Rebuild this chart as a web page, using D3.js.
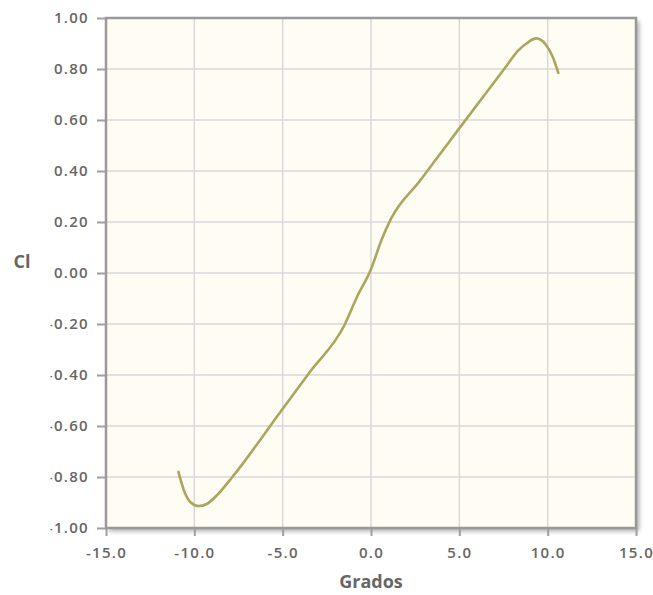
<!DOCTYPE html>
<html>
<head>
<meta charset="utf-8">
<script src="https://cdn.jsdelivr.net/npm/d3@7"></script>
<style>
  html, body { margin: 0; padding: 0; background: #ffffff; }
  svg text { font-family: "Open Sans", "DejaVu Sans", sans-serif; }
</style>
</head>
<body>
<svg id="chart" width="653" height="595"></svg>
<script>
// Lift coefficient vs. angle of attack
const grados = [-10.9, -10.55, -10.2, -9.75, -9.3, -8.7, -7.85, -5.1, -3.45, -1.5, -0.8, 0.0, 0.6, 1.15, 2.75, 5.05, 7.1, 7.7, 8.3, 8.8, 9.35, 9.9, 10.3, 10.6];
const cl     = [-0.78, -0.86, -0.90, -0.914, -0.906, -0.87, -0.80, -0.542, -0.387, -0.204, -0.095, 0.015, 0.13, 0.215, 0.36, 0.572, 0.76, 0.815, 0.87, 0.90, 0.92, 0.895, 0.845, 0.785];

const xTicks = [-15, -10, -5, 0, 5, 10, 15];
const yTicks = [-1.0, -0.8, -0.6, -0.4, -0.2, 0.0, 0.2, 0.4, 0.6, 0.8, 1.0];

const svg = d3.select("#chart");
const plot = { left: 106, top: 18, right: 636, bottom: 528 };

const x = d3.scaleLinear().domain([-15, 15]).range([plot.left, plot.right]);
const y = d3.scaleLinear().domain([-1, 1]).range([plot.bottom, plot.top]);

const defs = svg.append("defs");
const shadow = defs.append("filter").attr("id", "shadow")
  .attr("x", "-5%").attr("y", "-5%").attr("width", "115%").attr("height", "115%");
shadow.append("feGaussianBlur").attr("in", "SourceAlpha").attr("stdDeviation", 2.5);
shadow.append("feOffset").attr("dx", 3).attr("dy", 3).attr("result", "off");
shadow.append("feComponentTransfer").append("feFuncA").attr("type", "linear").attr("slope", 0.35);
const merge = shadow.append("feMerge");
merge.append("feMergeNode");
merge.append("feMergeNode").attr("in", "SourceGraphic");

// left labels are cut at the page margin
defs.append("clipPath").attr("id", "labelClip")
  .append("rect").attr("x", 50.5).attr("y", 0).attr("width", 603).attr("height", 595);

// plot background with shadow
svg.append("rect")
  .attr("x", plot.left).attr("y", plot.top)
  .attr("width", plot.right - plot.left).attr("height", plot.bottom - plot.top)
  .attr("fill", "#fefcf3")
  .attr("filter", "url(#shadow)");

// grid
const grid = svg.append("g").attr("stroke", "#d9d9d9").attr("stroke-width", 1.5);
grid.selectAll(".gx").data(xTicks.slice(1, -1)).join("line")
  .attr("x1", d => x(d)).attr("x2", d => x(d))
  .attr("y1", plot.top).attr("y2", plot.bottom);
grid.selectAll(".gy").data(yTicks.slice(1, -1)).join("line")
  .attr("x1", plot.left).attr("x2", plot.right)
  .attr("y1", d => y(d)).attr("y2", d => y(d));

// axes
const fmtY = d3.format(".2f");
const fmtX = d3.format(".1f");
const labelStyle = sel => sel
  .attr("fill", "#666").attr("font-size", 15).attr("font-weight", 600)
  .style("letter-spacing", "1.3px");

const yAxis = svg.append("g").attr("clip-path", "url(#labelClip)")
  .append("g")
  .attr("transform", `translate(${plot.left},0)`)
  .call(d3.axisLeft(y).tickValues(yTicks).tickFormat(d => fmtY(d).replace("−", "-")).tickSize(9).tickPadding(8));
yAxis.select(".domain").remove();
yAxis.selectAll("line").attr("stroke", "#a0a0a0").attr("stroke-width", 2);
yAxis.selectAll("text").call(labelStyle);

const xAxis = svg.append("g")
  .attr("transform", `translate(0,${plot.bottom})`)
  .call(d3.axisBottom(x).tickValues(xTicks).tickFormat(d => fmtX(d).replace("−", "-")).tickSize(8).tickPadding(11));
xAxis.select(".domain").remove();
xAxis.selectAll("line").attr("stroke", "#a0a0a0").attr("stroke-width", 2);
xAxis.selectAll("text").call(labelStyle);

// plot border
svg.append("rect")
  .attr("x", plot.left).attr("y", plot.top)
  .attr("width", plot.right - plot.left).attr("height", plot.bottom - plot.top)
  .attr("fill", "none").attr("stroke", "#999").attr("stroke-width", 2.5);

// curve
const line = d3.line()
  .x((d, i) => x(grados[i]))
  .y((d, i) => y(cl[i]))
  .curve(d3.curveMonotoneX);

svg.append("path")
  .datum(cl)
  .attr("d", line)
  .attr("fill", "none")
  .attr("stroke", "#aca55e")
  .attr("stroke-width", 2.6)
  .attr("stroke-linejoin", "round")
  .attr("stroke-linecap", "round");

// axis titles
svg.append("text")
  .attr("x", (plot.left + plot.right) / 2).attr("y", 588)
  .attr("text-anchor", "middle")
  .attr("fill", "#666").attr("font-size", 18).attr("font-weight", 700)
  .text("Grados");

svg.append("text")
  .attr("x", 22).attr("y", 268)
  .attr("text-anchor", "middle")
  .attr("fill", "#666").attr("font-size", 18).attr("font-weight", 700)
  .text("Cl");
</script>
</body>
</html>
